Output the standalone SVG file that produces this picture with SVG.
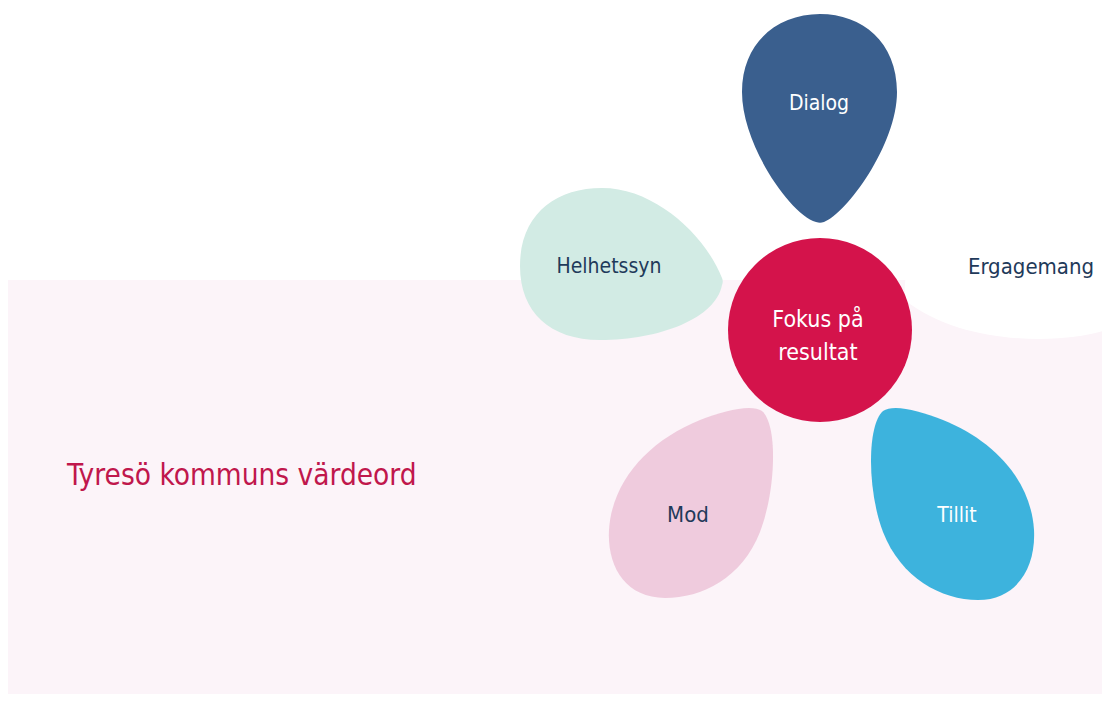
<svg xmlns="http://www.w3.org/2000/svg" width="1106" height="704" viewBox="0 0 1106 704">
<style>
.t{font-family:"DejaVu Sans Condensed","DejaVu Sans",sans-serif;text-anchor:middle;}
.dark{fill:#1f3a5a;}
.light{fill:#ffffff;}
</style>
<rect x="0" y="0" width="1106" height="704" fill="#ffffff"/>
<rect x="8" y="280" width="1094" height="414" fill="#fcf4f9"/>
<g id="ergagemang">
<path d="M 905 300 C 900 240, 950 205, 1010 205 C 1070 205, 1106 230, 1106 265 L 1106 330 C 1060 345, 960 345, 905 300 Z" fill="#ffffff"/>
<text class="t dark" x="1031" y="274" font-size="22">Ergagemang</text>
</g>
<g id="dialog">
<path d="M 816 222 C 790 214, 742 145, 742 92 C 742 42, 778 14, 820 14 C 862 14, 897 42, 897 92 C 897 145, 846 214, 824 222 C 821 223, 819 223, 816 222 Z" fill="#3a5f8e"/>
<text class="t light" x="819" y="110" font-size="21">Dialog</text>
</g>
<g id="helhetssyn">
<path d="M 722 285 C 716 318, 660 340, 600 340 C 550 340, 520 312, 520 266 C 520 215, 555 188, 602 188 C 655 188, 705 235, 722 278 C 723 280, 723 283, 722 285 Z" fill="#d2ebe4"/>
<text class="t dark" x="609" y="273" font-size="21">Helhetssyn</text>
</g>
<g id="fokus">
<circle cx="820" cy="330" r="92" fill="#d4134b"/>
<text class="t light" x="818" y="327" font-size="23">Fokus på</text>
<text class="t light" x="818" y="360" font-size="23">resultat</text>
</g>
<g id="mod">
<path d="M 762 411 C 778 425, 776 490, 760 532 C 742 578, 702 598, 665 598 C 625 598, 607 566, 609 530 C 612 480, 650 440, 700 420 C 725 410, 752 404, 762 411 Z" fill="#efcbdd"/>
<text class="t dark" x="688" y="522" font-size="22">Mod</text>
</g>
<g id="tillit">
<path d="M 883 411 C 867 425, 867 490, 883 532 C 901 578, 941 600, 978 600 C 1018 600, 1036 566, 1034 530 C 1031 480, 993 440, 943 420 C 918 410, 893 404, 883 411 Z" fill="#3db3dd"/>
<text class="t light" x="957" y="522" font-size="21">Tillit</text>
</g>
<g id="connectors"></g>
<g id="title">
<text x="67" y="485" font-family="DejaVu Sans Condensed, DejaVu Sans, sans-serif" font-size="29.5" fill="#c0174c">Tyresö kommuns värdeord</text>
</g>
</svg>
